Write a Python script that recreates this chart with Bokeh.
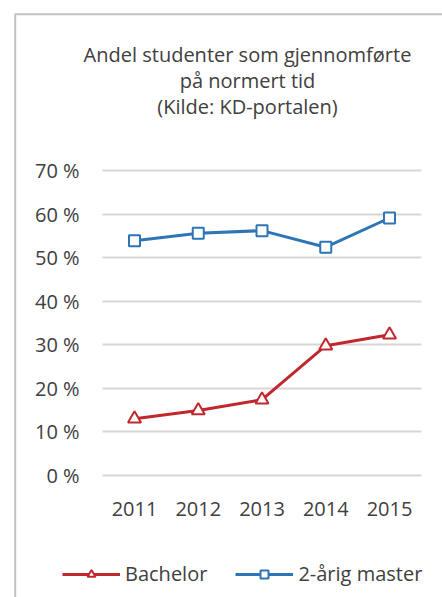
from bokeh.plotting import figure
from bokeh.models import (Range1d, FixedTicker, PrintfTickFormatter, Label, Legend,
                          LegendItem, BoxAnnotation)
from bokeh.embed import file_html
from bokeh.resources import INLINE

years = [2011, 2012, 2013, 2014, 2015]
bachelor = [13.0, 14.9, 17.4, 29.8, 32.3]
master = [53.9, 55.6, 56.2, 52.4, 59.1]
y_ticks = [0, 10, 20, 30, 40, 50, 60, 70]
title_lines = ["Andel studenter som gjennomførte", "på normert tid", "(Kilde: KD-portalen)"]
series_names = ["Bachelor", "2-årig master"]

FONT = "Open Sans"
TXT = "#404040"
RED = "#c0282e"
BLUE = "#2e75b6"

W, H = 442, 597
# pixel geometry of the plotting region (canvas coords, origin top-left)
X_PX0, X_PX1 = 134.0, 389.0      # centres of first and last year
Y_PX0, Y_PX70 = 475.0, 170.0     # 0 % and 70 % gridlines
px_per_year = (X_PX1 - X_PX0) / (years[-1] - years[0])
px_per_pct = (Y_PX0 - Y_PX70) / 70.0
x_start = years[0] - X_PX0 / px_per_year
x_end = years[-1] + (W - X_PX1) / px_per_year
y_start = -(H - Y_PX0) / px_per_pct
y_end = Y_PX0 / px_per_pct

p = figure(width=W, height=H, x_range=Range1d(x_start, x_end), y_range=Range1d(y_start, y_end),
           output_backend="svg", toolbar_location=None,
           min_border_left=0, min_border_right=0, min_border_top=0, min_border_bottom=0)
p.outline_line_color = None
p.background_fill_color = "white"
p.border_fill_color = "white"

half = 0.5
# axes placed inside the plotting region
p.yaxis.fixed_location = years[0] - half
p.yaxis.ticker = FixedTicker(ticks=y_ticks)
p.yaxis.formatter = PrintfTickFormatter(format="%d %%")
p.xaxis.fixed_location = 0
p.xaxis.ticker = FixedTicker(ticks=years)
for ax in (p.xaxis[0], p.yaxis[0]):
    ax.axis_line_color = None
    ax.major_tick_line_color = None
    ax.minor_tick_line_color = None
    ax.major_tick_out = 0
    ax.major_tick_in = 0
    ax.minor_tick_out = 0
    ax.minor_tick_in = 0
    ax.major_label_text_font = FONT
    ax.major_label_text_font_size = "20px"
    ax.major_label_text_color = TXT
p.yaxis.major_label_standoff = 23
p.xaxis.major_label_standoff = 26

p.xgrid.grid_line_color = None
g = p.ygrid[0]
g.ticker = FixedTicker(ticks=y_ticks)
g.grid_line_color = "#d9d5d2"
g.grid_line_width = 2
if "cross_bounds" in g.properties():
    g.cross_bounds = (years[0] - half, years[-1] + half)
else:
    g.grid_line_color = None
    p.segment(x0=[years[0] - half] * len(y_ticks), y0=y_ticks,
              x1=[years[-1] + half] * len(y_ticks), y1=y_ticks,
              line_color="#d9d5d2", line_width=2)

# series
rl = p.line(years, bachelor, line_color=RED, line_width=3)
rm = p.scatter(years, bachelor, marker="triangle", size=13, line_color=RED, line_width=2,
               fill_color="white")
bl = p.line(years, master, line_color=BLUE, line_width=3)
bm = p.scatter(years, master, marker="square", size=11, line_color=BLUE, line_width=2,
               fill_color="white")

# title
p.add_layout(Label(x=247, y=H - 80, x_units="screen", y_units="screen",
                   text="\n".join(title_lines), text_align="center", text_baseline="middle",
                   text_font=FONT, text_font_size="20px", text_color=TXT,
                   text_line_height=0.96))

# chart border
p.add_layout(BoxAnnotation(left=14.7, right=W + 20, top=H - 13.7, bottom=-20,
                           left_units="screen", right_units="screen",
                           top_units="screen", bottom_units="screen",
                           fill_alpha=0, line_color="#333333", line_width=2))

legend = Legend(items=[LegendItem(label=series_names[0], renderers=[rl, rm]),
                       LegendItem(label=series_names[1], renderers=[bl, bm])],
                orientation="horizontal", location=(62, 10), padding=0, margin=0,
                spacing=28, glyph_width=58, glyph_height=20, label_standoff=5,
                label_text_font=FONT, label_text_font_size="20px", label_text_color=TXT,
                border_line_color=None, background_fill_alpha=0)
p.add_layout(legend)

open("out.html", "w").write(file_html(p, INLINE))
